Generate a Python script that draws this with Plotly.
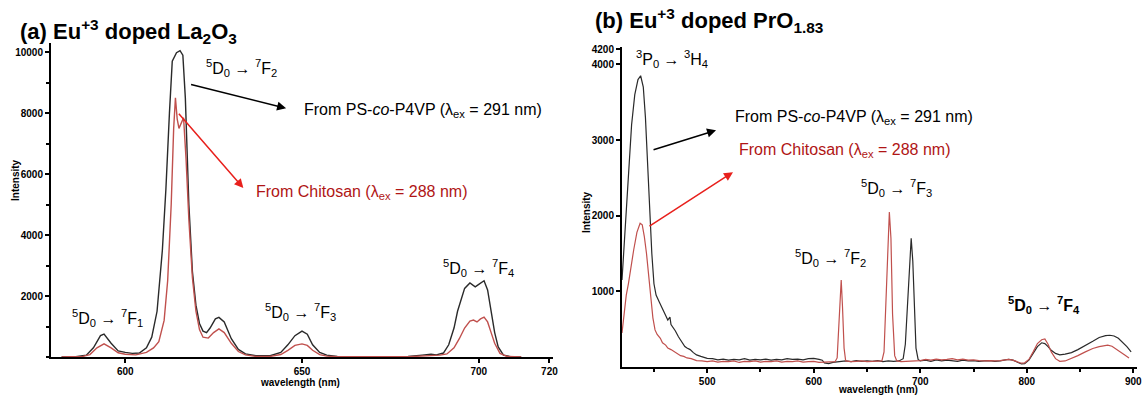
import plotly.graph_objects as go

# ---------------- Panel (a): Eu+3 doped La2O3 ----------------
a_wl_ps = [582, 586, 589, 591, 593, 594, 596, 598, 600, 602, 604, 606, 607.5, 609, 610.5, 611.5, 612.5, 613.3,
           614.5, 615.5, 616.3, 617, 618, 619, 620, 621, 622, 623, 624, 625.5, 626.5, 628, 630, 632, 634, 637,
           641, 644, 646, 648, 650, 651.5, 653, 655, 657, 660, 670, 680, 684, 686.5, 688, 690, 691.5, 693, 694,
           695, 696, 697.5, 699, 700, 701.5, 702.5, 703.5, 704.5, 705.5, 707, 709, 712]
a_int_ps = [0, 10, 60, 300, 700, 750, 450, 200, 150, 120, 130, 300, 650, 1500, 3500, 5500, 8000, 9700,
            9980, 10050, 9900, 8500, 5000, 2800, 1700, 1100, 850, 800, 950, 1250, 1300, 1150, 600, 250, 100, 40,
            40, 150, 400, 700, 850, 750, 400, 150, 60, 20, 10, 20, 60, 90, 70, 130, 400, 950, 1500,
            1900, 2250, 2430, 2300, 2380, 2500, 2200, 1450, 800, 330, 60, 10, 0]

a_wl_ch = [582, 588, 590, 592, 594, 596, 598, 600, 603, 606, 608, 609.5, 611, 612, 613, 613.7, 614.2, 614.7,
           615.2, 616, 616.5, 617.2, 618, 619, 620, 621, 622, 623.5, 625, 626.5, 628, 630, 632, 634, 637, 641,
           644, 646, 648, 650, 651.5, 653, 655, 657, 660, 680, 684, 686.5, 689, 691, 693, 694.5, 696, 697.5,
           698.5, 699.5, 700.5, 701.5, 702.5, 703.5, 704.5, 706, 708, 712]
a_int_ch = [0, 20, 80, 300, 430, 300, 140, 90, 70, 150, 300, 500, 1200, 2500, 5000, 7500, 8500, 7800,
            7500, 7700, 7850, 6500, 4500, 2600, 1500, 900, 650, 620, 800, 920, 800, 450, 180, 70, 20, 20,
            80, 220, 380, 430, 380, 220, 80, 30, 10, 10, 30, 50, 60, 100, 300, 600, 950, 1180,
            1210, 1150, 1250, 1310, 1150, 800, 450, 120, 20, 0]

a_xticks = [600, 650, 700, 720]
a_yticks = [2000, 4000, 6000, 8000, 10000]

# ---------------- Panel (b): Eu+3 doped PrO1.83 ----------------
b_wl_ps = [420, 423, 426, 429, 432, 435, 437.5, 440, 442, 444, 446, 448, 450, 452, 455, 458, 461, 463, 465, 466,
           468, 470, 473, 476, 479, 481, 484, 487, 490, 494, 497, 500, 505, 510, 515, 520, 525, 530, 535, 540,
           545, 550, 555, 560, 565, 570, 575, 580, 585, 590, 595, 600, 605, 608, 610, 614, 618, 622, 626, 630,
           635, 640, 645, 650, 655, 660, 665, 670, 675, 680, 684, 686, 688, 690, 691.5, 693, 694.5, 696, 698,
           700, 705, 710, 715, 720, 725, 730, 735, 740, 745, 750, 755, 760, 765, 770, 775, 780, 783, 787, 791,
           795, 798, 802, 806, 810, 814, 817, 820, 823, 827, 831, 836, 842, 848, 855, 862, 868, 874, 878, 882,
           886, 890, 894, 898]
b_int_ps = [1150, 1800, 2600, 3200, 3600, 3800, 3850, 3700, 3300, 2700, 2000, 1500, 1100, 950, 860, 760, 680,
            620, 660, 560, 520, 480, 400, 330, 270, 250, 230, 190, 160, 140, 125, 115, 110, 95, 105, 90, 100,
            95, 110, 90, 100, 95, 105, 90, 100, 95, 110, 100, 105, 95, 110, 115, 100, 90, 55, 45, 60, 70, 75,
            80, 70, 85, 75, 80, 75, 85, 70, 80, 75, 80, 110, 300, 800, 1450, 1700, 1400, 700, 250, 100,
            80, 90, 75, 95, 80, 90, 85, 75, 90, 80, 85, 75, 80, 85, 75, 80, 95, 100, 90, 70,
            40, 45, 90, 180, 270, 320, 310, 270, 220, 180, 160, 170, 190, 230, 280, 340, 390, 415, 420, 410,
            380, 330, 270, 200]

b_wl_ch = [420, 422, 424, 426, 428, 431, 434, 437, 439, 441, 443, 445, 447, 449, 451, 453, 456, 458, 461, 463,
           466, 469, 472, 475, 478, 481, 485, 490, 495, 500, 505, 510, 515, 520, 525, 530, 535, 540, 545, 550,
           555, 560, 565, 570, 575, 580, 585, 590, 595, 600, 605, 610, 615, 620, 622, 623.5, 625, 625.8, 627,
           628.5, 630, 635, 640, 645, 650, 655, 660, 664, 666, 668, 670, 671, 672.5, 674, 676, 678, 682, 686,
           690, 695, 700, 705, 710, 715, 720, 725, 730, 735, 740, 745, 750, 755, 760, 765, 770, 775, 780, 783,
           787, 791, 795, 798, 802, 806, 810, 814, 817, 820, 823, 827, 831, 836, 842, 848, 855, 862, 868, 872,
           876, 880, 884, 888, 892, 896]
b_int_ch = [450, 700, 950, 1100, 1300, 1550, 1780, 1900, 1880, 1720, 1500, 1200, 900, 650, 490, 430, 380, 320,
            290, 250, 230, 200, 180, 150, 140, 120, 110, 85, 80, 70, 80, 65, 75, 70, 80, 60, 75, 70, 80, 65,
            75, 70, 80, 65, 75, 70, 80, 65, 70, 75, 60, 65, 70, 70, 120, 500, 1050, 1150, 800,
            250, 80, 70, 75, 80, 70, 75, 70, 80, 200, 900, 1800, 2050, 1700, 700, 150, 80, 70, 75,
            70, 80, 85, 100, 90, 105, 95, 100, 110, 95, 105, 90, 95, 85, 80, 85, 80, 85, 95, 100,
            90, 70, 50, 55, 100, 200, 310, 360, 370, 300, 200, 110, 75, 80, 110, 150, 200, 245, 270, 285,
            290, 275, 240, 200, 160, 120]

b_xticks = [500, 600, 700, 800, 900]
b_yticks = [1000, 2000, 3000, 4000, 4200]

# ---------------- styles ----------------
FONT = "Liberation Sans, Arial, sans-serif"
BLACK_LINE = "#2a2a2a"
RED_LINE = "#c0504d"
RED_TEXT = "#b01515"
RED_ARROW = "#e8201c"

fig = go.Figure()
fig.add_trace(go.Scatter(x=a_wl_ps, y=a_int_ps, mode="lines", line=dict(color=BLACK_LINE, width=1.4),
                         xaxis="x", yaxis="y", showlegend=False))
fig.add_trace(go.Scatter(x=a_wl_ch, y=a_int_ch, mode="lines", line=dict(color=RED_LINE, width=1.4),
                         xaxis="x", yaxis="y", showlegend=False))
fig.add_trace(go.Scatter(x=b_wl_ps, y=b_int_ps, mode="lines", line=dict(color=BLACK_LINE, width=1.2),
                         xaxis="x2", yaxis="y2", showlegend=False))
fig.add_trace(go.Scatter(x=b_wl_ch, y=b_int_ch, mode="lines", line=dict(color=RED_LINE, width=1.2),
                         xaxis="x2", yaxis="y2", showlegend=False))

axis_common = dict(showline=True, linecolor="black", linewidth=2, ticks="outside", ticklen=4,
                   tickcolor="black", tickwidth=1.5, showgrid=False, zeroline=False, automargin=False,
                   tickformat="d", ticklabeloverflow="allow",
                   tickfont=dict(family=FONT, size=10, color="black", weight="bold"))

fig.update_layout(
    width=1142, height=395,
    margin=dict(l=0, r=0, t=0, b=0, autoexpand=False),
    paper_bgcolor="white", plot_bgcolor="white",
    font=dict(family=FONT, color="black"),
    xaxis=dict(domain=[51 / 1142, 553 / 1142], range=[579, 721], tickvals=a_xticks, anchor="y", **axis_common),
    yaxis=dict(domain=[38 / 395, 352 / 395], range=[0, 10300], tickvals=a_yticks, anchor="x",
               minor=dict(dtick=1000, ticks="outside", ticklen=3, tickcolor="black"), **axis_common),
    xaxis2=dict(domain=[622 / 1142, 1137 / 1142], range=[420, 903.5], tickvals=b_xticks, anchor="y2",
                minor=dict(dtick=50, ticks="outside", ticklen=3, tickcolor="black"), **axis_common),
    yaxis2=dict(domain=[28 / 395, 348 / 395], range=[0, 4230], tickvals=b_yticks, anchor="x2",
                **axis_common),
)

ann = []
# titles
ann.append(dict(xref="paper", yref="paper", x=18 / 1142, y=1 - 32 / 395, xanchor="left", yanchor="middle",
                text="<b>(a) Eu<sup>+3</sup> doped La<sub>2</sub>O<sub>3</sub></b>", showarrow=False,
                font=dict(size=22, family=FONT, color="black")))
ann.append(dict(xref="paper", yref="paper", x=593 / 1142, y=1 - 21 / 395, xanchor="left", yanchor="middle",
                text="<b>(b) Eu<sup>+3</sup> doped PrO<sub>1.83</sub></b>", showarrow=False,
                font=dict(size=22, family=FONT, color="black")))
# axis titles
for x, y, t, ang in [(15, 180, "Intensity", -90), (300, 382, "wavelength (nm)", 0),
                     (586, 212, "Intensity", -90), (878, 389, "wavelength (nm)", 0)]:
    ann.append(dict(xref="paper", yref="paper", x=x / 1142, y=1 - y / 395, xanchor="center", yanchor="middle",
                    text="<b>" + t + "</b>", textangle=ang, showarrow=False,
                    font=dict(size=10, family=FONT, color="black")))


def trans(lo, hi):
    return "<sup>%s</sup>D<sub>0</sub> → <sup>%s</sup>F<sub>%s</sub>" % (lo, hi[0], hi[1])


# panel (a) transition labels
for x, y, t in [(595, 1280, trans("5", "71")), (633, 9475, trans("5", "72")),
                (649.5, 1480, trans("5", "73")), (700, 2920, trans("5", "74"))]:
    ann.append(dict(xref="x", yref="y", x=x, y=y, text=t, showarrow=False,
                    font=dict(size=16, family=FONT, color="black")))
# panel (a) source labels
ann.append(dict(xref="x", yref="y", x=650, y=8100, xanchor="left",
                text="From PS-<i>co</i>-P4VP (λ<sub>ex</sub> = 291 nm)", showarrow=False,
                font=dict(size=16, family=FONT, color="black")))
ann.append(dict(xref="x", yref="y", x=636.5, y=5400, xanchor="left",
                text="From Chitosan (λ<sub>ex</sub> = 288 nm)", showarrow=False,
                font=dict(size=16, family=FONT, color=RED_TEXT)))
# panel (a) arrows
ann.append(dict(xref="x", yref="y", axref="x", ayref="y", x=645.5, y=8160, ax=618.2, ay=8950, text="",
                showarrow=True, arrowhead=2, arrowsize=1.2, arrowwidth=1.5, arrowcolor="black"))
ann.append(dict(xref="x", yref="y", axref="x", ayref="y", x=633.4, y=5540, ax=614.8, ay=8030, text="",
                showarrow=True, arrowhead=2, arrowsize=1.2, arrowwidth=1.5, arrowcolor=RED_ARROW))

# panel (b) labels
ann.append(dict(xref="x2", yref="y2", x=467, y=4070,
                text="<sup>3</sup>P<sub>0</sub> → <sup>3</sup>H<sub>4</sub>", showarrow=False,
                font=dict(size=16, family=FONT, color="black")))
for x, y, t in [(615.5, 1440, trans("5", "72")), (677.5, 2365, trans("5", "73")),
                (816, 820, "<b>" + trans("5", "74") + "</b>")]:
    ann.append(dict(xref="x2", yref="y2", x=x, y=y, text=t, showarrow=False,
                    font=dict(size=16, family=FONT, color="black")))
ann.append(dict(xref="x2", yref="y2", x=524, y=3300, xanchor="left",
                text="From PS-<i>co</i>-P4VP (λ<sub>ex</sub> = 291 nm)", showarrow=False,
                font=dict(size=16, family=FONT, color="black")))
ann.append(dict(xref="x2", yref="y2", x=528, y=2866, xanchor="left",
                text="From Chitosan (λ<sub>ex</sub> = 288 nm)", showarrow=False,
                font=dict(size=16, family=FONT, color=RED_TEXT)))
ann.append(dict(xref="x2", yref="y2", axref="x2", ayref="y2", x=508.3, y=3130, ax=448.2, ay=2866, text="",
                showarrow=True, arrowhead=2, arrowsize=1.2, arrowwidth=1.5, arrowcolor="black"))
ann.append(dict(xref="x2", yref="y2", axref="x2", ayref="y2", x=524.2, y=2576, ax=444.4, ay=1850, text="",
                showarrow=True, arrowhead=2, arrowsize=1.2, arrowwidth=1.5, arrowcolor=RED_ARROW))

fig.update_layout(annotations=ann)
fig.write_html("out.html", config={"displayModeBar": False},
               post_script="document.body.style.margin='0px';document.body.style.overflow='hidden';")
